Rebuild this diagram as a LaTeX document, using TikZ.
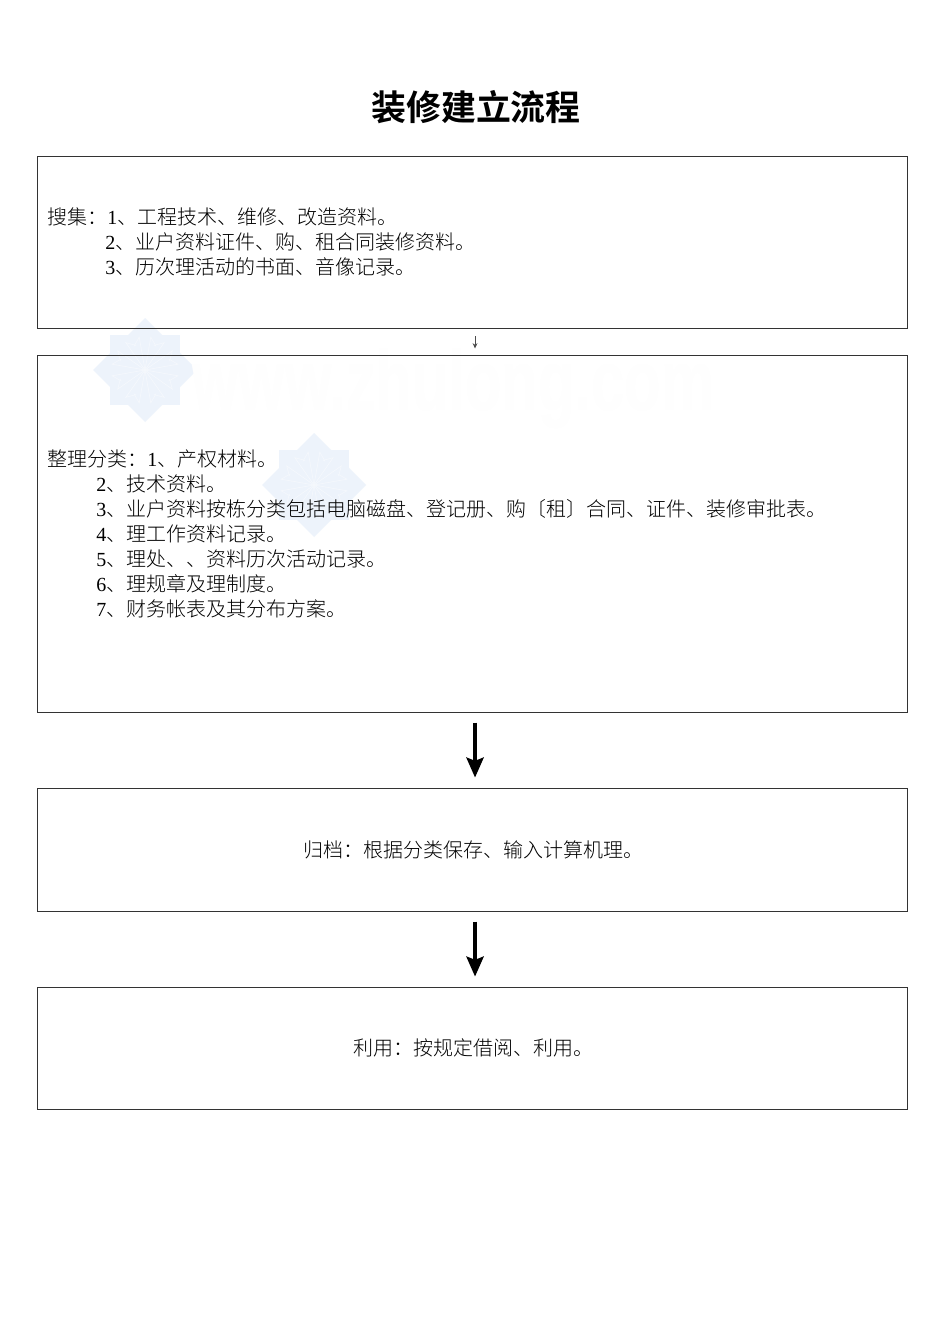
\documentclass[tikz,border=0pt]{standalone}
\usepackage{fontspec}
\usetikzlibrary{arrows.meta}
\setmainfont{Liberation Serif}
\setsansfont{Liberation Sans}
\newfontfamily\cjkbold{Noto Sans CJK SC Bold}
\newfontfamily\cjklight{Noto Sans CJK SC Light}
\newcommand{\zh}[1]{{\cjklight #1}}
\definecolor{logoblue}{HTML}{EDF3FB}
\definecolor{logoline}{HTML}{F6F9FD}
\definecolor{markgray}{HTML}{FEFEFE}
\begin{document}
\begin{tikzpicture}[x=0.75pt,y=-0.75pt,
  flowbox/.style={draw=black!80,line width=0.75pt,fill=none,inner sep=0pt,minimum width=652.5pt},
  bodytext/.style={anchor=base west,inner sep=0pt,font=\fontsize{15}{15}\selectfont},
  centertext/.style={anchor=base,inner sep=0pt,font=\fontsize{15}{15}\selectfont},
  titletext/.style={anchor=base,inner sep=0pt,font=\fontsize{26.2}{26.2}\cjkbold},
  bigarrow/.style={line width=2.4pt,-{Stealth[length=15pt,width=13pt,inset=2.5pt]}},
  tinyarrow/.style={draw=black!70,line width=0.7pt,-{Stealth[length=4pt,width=3.6pt]}},
  logopart/.style={fill=logoblue,draw=none},
  logostroke/.style={draw=logoline,line width=0.4pt}]
\useasboundingbox (0,0) rectangle (950,1344);
\fill[white] (0,0) rectangle (950,1344);
% watermark
\foreach \cx/\cy in {145/370,314/485}{
  \fill[logopart] (\cx-52,\cy) -- (\cx,\cy-52) -- (\cx+52,\cy) -- (\cx,\cy+52) -- cycle;
  \fill[logopart] (\cx-35,\cy-35) rectangle (\cx+35,\cy+35);
  \foreach \a in {0,45,...,315}{
    \draw[logostroke] (\cx,\cy) -- ++(\a+10:25pt) -- ++(\a+150:8pt);
    \draw[logostroke] (\cx,\cy) -- ++(\a-10:25pt) -- ++(\a-150:8pt);
  }
}
\node[anchor=base west,inner sep=0pt,text=markgray,xscale=0.7,font=\fontsize{64}{64}\sffamily\bfseries] (mark) at (192,410) {www.zhulong.com};
% title
\node[titletext] (title) at (476,121) {装修建立流程};
% boxes
\node[flowbox,minimum height=129.5pt] (b1) at (472.5,242.5) {};
\node[flowbox,minimum height=267.75pt] (b2) at (472.5,533.5) {};
\node[flowbox,minimum height=92.25pt] (b3) at (472.5,849.5) {};
\node[flowbox,minimum height=91.5pt] (b4) at (472.5,1048) {};
% box 1 text
\node[bodytext] (t11) at (47,225) {\zh{搜集：}1\zh{、工程技术、维修、改造资料。}};
\node[bodytext] (t12) at (105,250) {2\zh{、业户资料证件、购、租合同装修资料。}};
\node[bodytext] (t13) at (105,275) {3\zh{、历次理活动的书面、音像记录。}};
% box 2 text
\node[bodytext] (t21) at (47,466) {\zh{整理分类：}1\zh{、产权材料。}};
\node[bodytext] (t22) at (96,491) {2\zh{、技术资料。}};
\node[bodytext] (t23) at (96,516) {3\zh{、业户资料按栋分类包括电脑磁盘、登记册、购〔租〕合同、证件、装修审批表。}};
\node[bodytext] (t24) at (96,541) {4\zh{、理工作资料记录。}};
\node[bodytext] (t25) at (96,566) {5\zh{、理处、、资料历次活动记录。}};
\node[bodytext] (t26) at (96,591) {6\zh{、理规章及理制度。}};
\node[bodytext] (t27) at (96,616) {7\zh{、财务帐表及其分布方案。}};
% box 3, 4 text
\node[centertext] (t3) at (473,857.5) {\zh{归档：根据分类保存、输入计算机理。}};
\node[centertext] (t4) at (473.5,1055.5) {\zh{利用：按规定借阅、利用。}};
% connectors
\draw[tinyarrow] ([xshift=1.9pt,yshift=-5pt]b1.south) -- ([xshift=1.9pt,yshift=4.5pt]b2.north);
\draw[bigarrow] ([xshift=1.9pt,yshift=-7.5pt]b2.south) -- ([xshift=1.9pt,yshift=7.5pt]b3.north);
\draw[bigarrow] ([xshift=1.9pt,yshift=-7.5pt]b3.south) -- ([xshift=1.9pt,yshift=7.5pt]b4.north);
\end{tikzpicture}
\end{document}
